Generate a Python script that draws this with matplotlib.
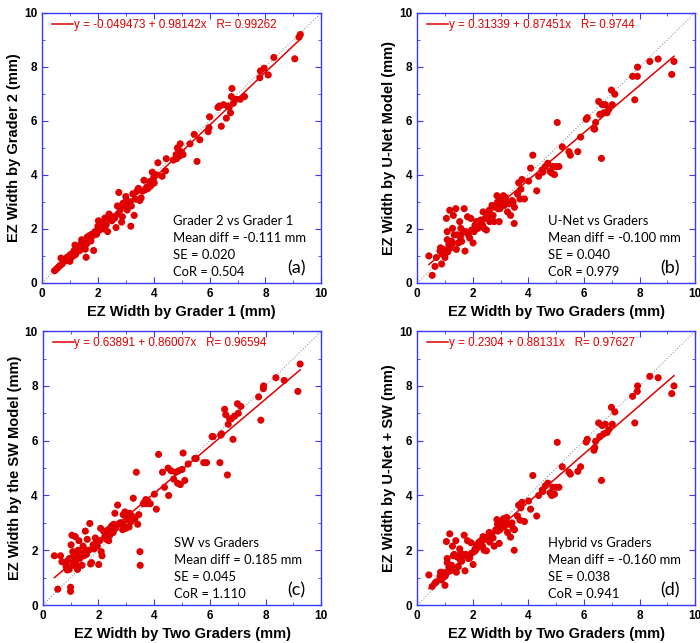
import matplotlib
matplotlib.use("Agg")
import matplotlib.pyplot as plt
from matplotlib.ticker import MultipleLocator
import numpy as np

plt.rcParams["font.family"] = ["Liberation Sans", "DejaVu Sans"]

# panel (a): grader 1 vs grader 2
g1 = [0.45, 0.5, 0.55, 0.6, 0.65, 0.68, 0.72, 0.8, 0.85, 0.9, 0.95, 0.98, 1.0, 1.02, 1.05,
      1.1, 1.12, 1.15, 1.18, 1.2, 1.25, 1.3, 1.35, 1.4, 1.42, 1.45, 1.5, 1.55, 1.58, 1.6,
      1.62, 1.65, 1.7, 1.75, 1.78, 1.82, 1.85, 1.9, 1.95, 2.0, 2.02, 2.05, 2.08, 2.1, 2.15,
      2.2, 2.25, 2.3, 2.35, 2.4, 2.45, 2.5, 2.55, 2.6, 2.65, 2.7, 2.72, 2.75, 2.8, 2.85,
      2.88, 2.9, 2.95, 3.0, 3.02, 3.05, 3.1, 3.15, 3.18, 3.2, 3.25, 3.3, 3.35, 3.4, 3.45,
      3.5, 3.55, 3.6, 3.65, 3.7, 3.75, 3.8, 3.85, 3.9, 3.95, 4.0, 4.02, 4.1, 4.15, 4.3,
      4.42, 4.45, 4.7, 4.8, 4.82, 4.85, 4.9, 4.92, 4.95, 5.0, 5.05, 5.3, 5.45, 5.55, 5.65,
      5.95, 5.98, 6.0, 6.3, 6.35, 6.42, 6.5, 6.6, 6.65, 6.7, 6.75, 6.78, 6.8, 6.85, 6.95,
      7.1, 7.25, 7.8, 7.82, 7.95, 8.1, 8.3, 9.05, 9.2, 9.25]
g2 = [0.45, 0.5, 0.55, 0.6, 0.65, 0.92, 0.7, 0.8, 0.85, 0.95, 0.85, 1.0, 0.8, 1.05, 0.95,
      1.1, 1.0, 1.2, 1.4, 1.05, 1.15, 1.3, 1.2, 1.45, 1.6, 1.35, 1.55, 1.25, 0.95, 1.45,
      1.7, 1.6, 1.75, 1.55, 1.8, 1.75, 1.2, 1.9, 1.8, 2.1, 2.3, 1.95, 2.2, 2.05, 2.25,
      2.0, 2.4, 2.15, 1.9, 2.55, 2.35, 2.3, 2.45, 2.4, 2.05, 2.85, 2.55, 3.35, 2.7, 2.25,
      2.45, 2.95, 2.85, 3.2, 3.05, 2.7, 2.9, 3.0, 2.1, 2.85, 3.3, 2.5, 3.1, 3.4, 3.5,
      3.05, 3.15, 3.4, 3.8, 3.45, 3.55, 3.5, 3.75, 3.6, 4.1, 3.9, 3.7, 4.0, 4.45, 3.95,
      4.15, 4.6, 4.55, 4.75, 4.6, 5.0, 4.9, 4.7, 5.15, 4.85, 4.75, 5.15, 5.5, 4.5, 5.3,
      5.6, 5.75, 6.15, 6.5, 6.55, 5.8, 6.6, 6.1, 6.55, 6.5, 6.3, 6.9, 7.2, 6.65, 6.8,
      6.8, 6.9, 7.6, 7.85, 7.95, 7.7, 8.35, 8.3, 9.1, 9.2]

# panels (b)-(d): mean of two graders vs each model
graders = [0.42, 0.54, 0.64, 0.69, 0.82, 0.84, 0.88, 0.9, 0.95, 0.96, 1.0, 1.0, 1.02, 1.05,
           1.08, 1.08, 1.1, 1.14, 1.17, 1.2, 1.24, 1.25, 1.27, 1.3, 1.33, 1.39, 1.41, 1.45,
           1.48, 1.53, 1.55, 1.57, 1.6, 1.65, 1.69, 1.72, 1.75, 1.81, 1.84, 1.89, 1.93, 1.96,
           2.01, 2.05, 2.08, 2.1, 2.13, 2.18, 2.23, 2.29, 2.3, 2.35, 2.37, 2.41, 2.45, 2.49,
           2.53, 2.55, 2.59, 2.61, 2.69, 2.73, 2.77, 2.83, 2.87, 2.89, 2.9, 2.95, 2.98, 3.01,
           3.05, 3.1, 3.13, 3.17, 3.2, 3.22, 3.25, 3.31, 3.36, 3.41, 3.45, 3.49, 3.5, 3.61,
           3.65, 3.7, 3.73, 3.77, 3.86, 4.01, 4.08, 4.16, 4.3, 4.37, 4.5, 4.52, 4.61, 4.7,
           4.78, 4.84, 4.88, 4.94, 5.0, 5.04, 5.1, 5.22, 5.46, 5.51, 5.78, 5.88, 6.08, 6.12,
           6.36, 6.39, 6.42, 6.53, 6.57, 6.63, 6.66, 6.71, 6.77, 6.83, 6.89, 6.99, 7.02, 7.11,
           7.75, 7.83, 7.93, 7.92, 8.37, 8.67, 9.16, 9.24]
unet = [1.0, 0.28, 0.61, 0.94, 1.18, 1.3, 0.7, 1.06, 1.1, 1.24, 0.94, 1.12, 1.12, 2.39,
        1.9, 1.6, 1.15, 1.42, 2.69, 1.3, 1.54, 1.45, 2.02, 2.5, 1.78, 2.75, 1.24, 1.78,
        1.48, 2.27, 1.7, 2.02, 1.54, 1.9, 2.75, 1.18, 1.9, 2.45, 1.78, 1.66, 2.39, 1.96,
        1.48, 1.9, 2.14, 2.0, 2.27, 2.02, 2.2, 2.33, 2.2, 2.14, 2.63, 2.02, 2.39, 1.96,
        2.5, 2.45, 2.69, 2.27, 2.87, 2.5, 2.27, 2.81, 3.23, 2.99, 2.75, 2.27, 2.75, 3.05,
        2.93, 3.23, 2.87, 3.17, 2.95, 3.01, 2.63, 2.93, 2.5, 3.05, 3.0, 2.2, 2.8, 3.29,
        3.71, 3.11, 3.47, 3.83, 3.11, 3.77, 4.25, 4.73, 3.41, 3.95, 4.19, 4.1, 4.31, 4.43,
        4.13, 4.07, 4.31, 4.01, 4.31, 5.94, 4.31, 5.04, 4.86, 4.73, 4.86, 5.4, 6.06, 6.12,
        5.7, 5.7, 5.94, 6.72, 6.24, 4.61, 6.6, 6.3, 6.6, 6.3, 6.42, 7.14, 6.6, 6.99,
        7.65, 6.78, 7.99, 7.65, 8.2, 8.29, 7.72, 8.2]
sw = [1.8, 0.58, 1.8, 1.58, 1.55, 1.4, 1.28, 1.62, 1.3, 1.7, 0.5, 0.65, 2.2, 2.55,
      1.95, 1.75, 1.45, 1.6, 2.5, 1.5, 1.85, 1.3, 2.0, 2.35, 1.7, 1.9, 1.45, 2.15,
      1.8, 2.7, 2.0, 1.85, 2.4, 2.0, 2.98, 1.5, 1.55, 2.2, 2.05, 2.45, 2.3, 2.15,
      1.48, 2.35, 2.8, 1.95, 1.8, 2.7, 2.5, 2.4, 2.6, 2.75, 2.35, 2.55, 2.85, 2.9,
      2.65, 2.95, 3.35, 2.8, 3.65, 2.95, 3.0, 3.0, 2.75, 3.3, 2.9, 3.4, 2.8, 3.35,
      3.1, 2.85, 3.35, 3.05, 3.25, 3.2, 3.9, 3.15, 4.85, 2.95, 3.3, 1.95, 1.45, 3.7,
      3.75, 3.85, 3.7, 3.8, 3.7, 4.05, 3.5, 5.5, 4.85, 4.3, 5.0, 4.0, 4.9, 4.6,
      4.85, 4.45, 4.9, 4.4, 4.95, 5.55, 4.55, 5.15, 5.35, 5.35, 5.2, 5.2, 6.15, 6.15,
      5.2, 6.2, 6.25, 7.15, 6.95, 4.75, 6.6, 6.8, 6.8, 6.05, 6.9, 7.35, 7.0, 7.25,
      7.6, 6.75, 8.0, 7.9, 8.3, 8.2, 7.8, 8.8]
hybrid = [1.1, 0.68, 0.8, 0.85, 1.05, 1.2, 0.92, 1.0, 1.12, 1.18, 0.72, 1.05, 1.1, 2.32,
          1.7, 1.55, 1.22, 1.38, 2.6, 1.25, 1.45, 1.3, 2.15, 1.8, 1.85, 2.35, 1.2, 1.75,
          1.4, 2.05, 1.65, 1.9, 1.6, 1.8, 2.55, 1.25, 1.85, 2.35, 1.7, 1.72, 2.28, 1.9,
          1.48, 1.95, 2.05, 2.0, 2.2, 2.1, 2.3, 2.25, 2.35, 2.15, 2.5, 2.0, 2.4, 1.98,
          2.45, 2.5, 2.65, 2.3, 2.62, 2.45, 2.15, 2.75, 3.12, 2.95, 2.7, 2.25, 2.75, 2.95,
          2.9, 3.15, 2.85, 3.05, 3.0, 3.2, 2.65, 2.95, 2.48, 3.0, 2.8, 2.0, 2.75, 3.25,
          3.65, 3.1, 3.55, 3.75, 3.05, 3.8, 3.5, 4.73, 3.25, 4.0, 4.2, 4.15, 4.35, 4.45,
          4.1, 4.0, 4.3, 4.05, 4.3, 5.94, 4.3, 5.05, 4.85, 4.78, 4.88, 5.05, 5.95, 6.05,
          5.65, 5.75, 5.98, 6.65, 6.15, 4.55, 6.55, 6.25, 6.6, 6.3, 6.4, 7.22, 6.6, 7.05,
          7.62, 6.65, 8.0, 7.8, 8.35, 8.3, 7.72, 8.0]

# fit results as printed on the panels: intercept, slope, R
fits = [("-0.049473", "0.98142", "0.99262"), ("0.31339", "0.87451", "0.9744"),
        ("0.63891", "0.86007", "0.96594"), ("0.2304", "0.88131", "0.97627")]
xlabels = ["EZ Width by Grader 1 (mm)", "EZ Width by Two Graders (mm)",
           "EZ Width by Two Graders (mm)", "EZ Width by Two Graders (mm)"]
ylabels = ["EZ Width by Grader 2 (mm)", "EZ Width by U-Net Model (mm)",
           "EZ Width by the SW Model (mm)", "EZ Width by U-Net + SW (mm)"]
notes = [["Grader 2 vs Grader 1", "Mean diff = -0.111 mm", "SE = 0.020", "CoR = 0.504"],
         ["U-Net vs Graders", "Mean diff = -0.100 mm", "SE = 0.040", "CoR = 0.979"],
         ["SW vs Graders", "Mean diff = 0.185 mm", "SE = 0.045", "CoR = 1.110"],
         ["Hybrid vs Graders", "Mean diff = -0.160 mm", "SE = 0.038", "CoR = 0.941"]]
tags = ["(a)", "(b)", "(c)", "(d)"]
xs = [g1, graders, graders, graders]
ys = [g2, unet, sw, hybrid]

red = "#e00000"
blue = "#3a3aff"

fig = plt.figure(figsize=(7, 6.43), dpi=100)
boxes = [[0.06, 0.56, 0.399, 0.42], [0.596, 0.56, 0.397, 0.42],
         [0.061, 0.059, 0.398, 0.426], [0.596, 0.059, 0.397, 0.426]]

for i in range(4):
    ax = fig.add_axes(boxes[i])
    x = np.array(xs[i])
    y = np.array(ys[i])
    a, b, r = fits[i]
    ax.plot([0, 10], [0, 10], ls=":", color="#999999", lw=0.8, zorder=1)
    xf = np.array([x.min(), x.max()])
    ax.plot(xf, float(a) + float(b) * xf, color=red, lw=1.1, zorder=2,
            label="y = %s + %sx   R= %s" % (a, b, r))
    ax.scatter(x, y, s=26, color=red, edgecolors="none", zorder=3)
    ax.set_xlim(0, 10)
    ax.set_ylim(0, 10)
    ax.xaxis.set_major_locator(MultipleLocator(2))
    ax.yaxis.set_major_locator(MultipleLocator(2))
    ax.xaxis.set_minor_locator(MultipleLocator(1))
    ax.yaxis.set_minor_locator(MultipleLocator(1))
    ax.tick_params(which="both", direction="in", top=True, right=True, color=blue,
                   labelsize=8.5)
    ax.tick_params(which="major", length=4)
    ax.tick_params(which="minor", length=2)
    for lab in ax.get_xticklabels() + ax.get_yticklabels():
        lab.set_fontweight("bold")
    for sp in ax.spines.values():
        sp.set_color(blue)
        sp.set_linewidth(1.0)
    ax.set_xlabel(xlabels[i], fontsize=10.5, fontweight="bold", labelpad=4)
    ax.set_ylabel(ylabels[i], fontsize=10.5, fontweight="bold", labelpad=2)
    ax.legend(loc="upper left", bbox_to_anchor=(0.015, 1.0), frameon=False,
              fontsize=8.4, labelcolor=red, handlelength=1.8, handletextpad=0.05,
              borderaxespad=0.2, borderpad=0.3)
    for k, line in enumerate(notes[i]):
        ax.text(0.47, 0.228 - 0.062 * k, line, transform=ax.transAxes, fontsize=9.4,
                family=["Lato", "DejaVu Sans"], va="center", ha="left")
    ax.text(0.91, 0.054, tags[i], transform=ax.transAxes, fontsize=13,
            family=["Lato", "DejaVu Sans"], va="center", ha="center")

fig.savefig("out.png", dpi=100)
